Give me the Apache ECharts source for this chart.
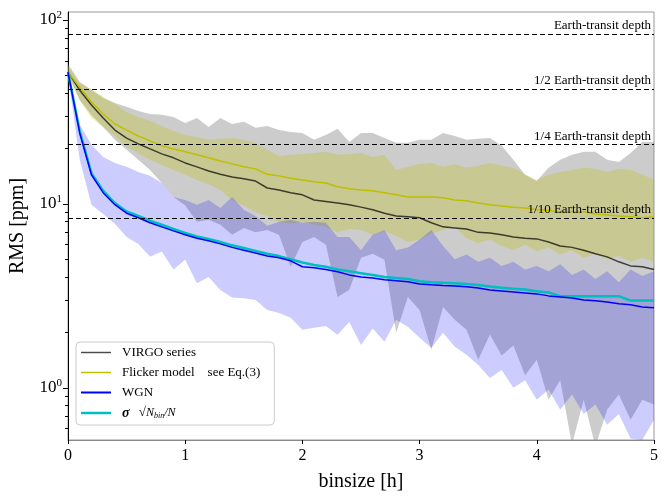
<!DOCTYPE html>
<html>
<head>
<meta charset="utf-8">
<script src="https://cdn.jsdelivr.net/npm/echarts@6/dist/echarts.min.js"></script>
<style>
html, body { margin: 0; padding: 0; background: #fff; }
#main { width: 661px; height: 498px; }
</style>
</head>
<body>
<div id="main"></div>
<script>
// bin size [h]
const binsize = [0, 0.1, 0.2, 0.3, 0.4, 0.5, 0.6, 0.7, 0.8, 0.9, 1, 1.1, 1.2, 1.3, 1.4, 1.5, 1.6, 1.7, 1.8, 1.9,
    2, 2.1, 2.2, 2.3, 2.4, 2.5, 2.6, 2.7, 2.8, 2.9, 3, 3.1, 3.2, 3.3, 3.4, 3.5, 3.6, 3.7, 3.8, 3.9,
    4, 4.1, 4.2, 4.3, 4.4, 4.5, 4.6, 4.7, 4.8, 4.9, 5]

// RMS [ppm]
const virgo = [52, 41.5, 34.5, 29.3, 25.2, 22.8, 21.2, 19.9, 18.7, 17.8, 16.7, 15.9, 15.1, 14.5, 14.0, 13.7, 13.3, 12.2, 11.9, 11.5,
    11.2, 10.5, 10.3, 10.1, 9.9, 9.6, 9.3, 8.9, 8.6, 8.5, 8.4, 7.9, 7.5, 7.4, 7.3, 7.0, 6.95, 6.8, 6.6, 6.5,
    6.45, 6.2, 5.9, 5.8, 5.6, 5.35, 5.15, 4.84, 4.6, 4.55, 4.4]
const virgoLo = [51, 36.7, 30.4, 26.2, 22.3, 19.7, 17.4, 15.3, 13.0, 10.9, 9.8, 8.0, 8.2, 7.7, 6.8, 7.4, 7.0, 7.2, 6.8, 4.55,
    6.2, 6.6, 6.0, 3.12, 3.41, 5.09, 5.35, 4.96, 1.99, 3.12, 2.65, 1.61, 2.75, 2.34, 2.07, 1.42, 1.95, 1.5, 1.7, 1.17,
    1.42, 0.86, 1.1, 0.49, 0.86, 0.48, 0.76, 0.92, 0.67, 0.86, 0.81]
const virgoHi = [57.7, 46.0, 41.7, 37.7, 35.4, 33.7, 32.0, 30.8, 30.5, 29.7, 27.5, 29.3, 26.2, 29.3, 27.2, 28.0, 25.9, 26.5, 25.2, 24.6,
    24.3, 22.3, 23.7, 25.6, 21.7, 24.3, 24.3, 22.8, 21.5, 21.5, 22.3, 22.3, 24.3, 23.4, 22.3, 22.6, 22.8, 20.7, 17.4, 14.4,
    13.3, 15.7, 17.4, 18.5, 19.2, 19.2, 17.4, 16.9, 18.9, 21.7, 21.7]

const flicker = [52, 43, 35.8, 30.8, 27.2, 25.2, 23.4, 22.0, 20.7, 19.9, 19.2, 18.5, 17.8, 17.1, 16.5, 15.9, 15.5, 14.5, 14.2, 13.8,
    13.5, 13.2, 13.0, 12.4, 12.1, 11.9, 11.8, 11.5, 11.2, 10.9, 10.9, 10.9, 10.8, 10.5, 10.4, 10.1, 9.9, 9.75, 9.6, 9.5,
    9.3, 9.2, 9.05, 9.05, 9.05, 8.8, 8.7, 8.6, 8.5, 8.4, 8.5]
const flickerLo = [50, 36.7, 29.3, 26.2, 23.5, 20.4, 18.9, 17.4, 16.3, 15.3, 14.4, 13.5, 12.8, 11.9, 10.5, 9.8, 9.0, 8.6, 7.98, 7.8,
    8.0, 7.7, 7.5, 7.0, 7.3, 7.2, 6.8, 7.1, 6.7, 6.2, 6.4, 6.9, 7.2, 7.5, 6.5, 6.1, 6.4, 5.9, 5.6, 6.0,
    5.5, 5.8, 5.3, 5.6, 5.1, 5.35, 5.0, 5.2, 4.85, 5.1, 4.85]
const flickerHi = [56.2, 45.4, 41.7, 38.2, 34.9, 31.6, 29.7, 28.3, 26.5, 24.9, 23.7, 23.1, 22.3, 22.6, 22.8, 22.3, 21.5, 19.7, 18.2, 18.5,
    18.7, 18.9, 19.2, 18.5, 18.7, 18.9, 18.0, 18.5, 15.3, 15.9, 16.5, 16.7, 15.9, 16.5, 15.7, 16.1, 16.7, 16.1, 15.7, 14.5,
    13.5, 14.4, 14.9, 15.3, 15.7, 15.5, 14.9, 15.5, 15.3, 14.5, 13.5]

const wgn = [52, 24.3, 14.4, 11.5, 9.9, 8.9, 8.4, 7.9, 7.5, 7.13, 6.8, 6.5, 6.3, 6.06, 5.8, 5.6, 5.4, 5.2, 5.1, 4.9,
    4.55, 4.5, 4.4, 4.27, 4.11, 4.0, 3.95, 3.87, 3.82, 3.77, 3.67, 3.63, 3.6, 3.58, 3.54, 3.49, 3.4, 3.36, 3.32, 3.28,
    3.24, 3.16, 3.12, 3.08, 3.0, 2.97, 2.93, 2.86, 2.83, 2.75, 2.72]
const wgnLo = [50, 17.4, 9.9, 8.8, 7.8, 6.6, 6.06, 5.15, 5.5, 4.4, 4.96, 3.7, 4.0, 3.4, 3.1, 3.07, 3.0, 2.65, 2.55, 2.4,
    2.07, 2.12, 2.17, 1.94, 2.28, 1.71, 2.1, 1.78, 2.34, 2.15, 1.87, 1.65, 1.99, 1.67, 1.51, 1.33, 1.13, 1.25, 1.0, 1.10,
    0.86, 0.98, 0.76, 0.92, 0.72, 0.81, 0.63, 0.72, 0.53, 0.52, 0.67]
const wgnHi = [54, 27, 21, 18.0, 16.7, 15.9, 14.9, 14.2, 13.0, 10.9, 10.5, 9.9, 10.5, 9.5, 10.9, 9.3, 8.6, 7.6, 8.0, 8.2,
    7.9, 8.0, 7.9, 6.6, 6.6, 5.6, 6.8, 7.2, 5.6, 5.8, 6.4, 7.2, 5.9, 5.0, 5.3, 4.85, 5.1, 4.6, 4.85, 4.4,
    4.6, 4.3, 4.7, 4.1, 4.4, 3.9, 4.3, 3.75, 4.4, 4.05, 4.3]

const sigmaBin = [52, 24.8, 14.7, 11.8, 10.1, 9.1, 8.6, 8.1, 7.7, 7.3, 6.95, 6.65, 6.45, 6.2, 5.95, 5.75, 5.55, 5.35, 5.2, 5.0,
    4.8, 4.65, 4.55, 4.4, 4.3, 4.2, 4.1, 4.0, 3.95, 3.9, 3.8, 3.75, 3.72, 3.7, 3.67, 3.62, 3.55, 3.5, 3.45, 3.42,
    3.35, 3.3, 3.15, 3.15, 3.15, 3.15, 3.15, 3.15, 2.98, 2.98, 2.98]

// transit depth reference lines
const depthNames = ['Earth-transit depth', '1/2 Earth-transit depth', '1/4 Earth-transit depth', '1/10 Earth-transit depth']
const depthLevels = [84, 42, 21, 8.4]

const yMajor = [1, 10, 100]
const yMinor = [0.6, 0.7, 0.8, 0.9, 2, 3, 4, 5, 6, 7, 8, 9, 20, 30, 40, 50, 60, 70, 80, 90]

const serif = 'Liberation Serif'

function pairs(ys) {
    return binsize.map((x, i) => [x, ys[i]])
}

// shaded band between lo and hi, drawn as one polygon through the axes
function band(name, lo, hi, color) {
    return {
        name: name,
        type: 'custom',
        silent: true,
        clip: true,
        data: binsize.map((x, i) => [x, lo[i], hi[i]]),
        encode: { x: 0, y: [1, 2] },
        renderItem: function (params, api) {
            if (params.dataIndex !== 0) return null
            let pts = []
            for (let i = 0; i < binsize.length; i++) pts.push(api.coord([binsize[i], hi[i]]))
            for (let i = binsize.length - 1; i >= 0; i--) pts.push(api.coord([binsize[i], lo[i]]))
            return {
                type: 'polygon',
                shape: { points: pts },
                style: { fill: color, stroke: null }
            }
        }
    }
}

const legendText = {
    virgo: '{t|VIRGO series}',
    flicker: '{t|Flicker model    see Eq.(3)}',
    wgn: '{t|WGN}',
    sigma: '{sg|σ}{t| }{sq|√}{it|N}{sb|bin}{it|/N}'
}

var chart = echarts.init(document.getElementById('main'))

let option = {
    animation: false,
    grid: {
        left: 68, right: 3, top: 12, bottom: 58,
        show: true, borderColor: '#999', borderWidth: 1
    },
    legend: {
        data: [
            { name: 'virgo', icon: 'path://M0,0h30v1.5h-30z' },
            { name: 'flicker', icon: 'path://M0,0h30v1.5h-30z' },
            { name: 'wgn', icon: 'path://M0,0h30v2h-30z' },
            { name: 'sigma', icon: 'path://M0,0h30v2.5h-30z' }
        ],
        orient: 'vertical',
        left: 76,
        top: 342,
        itemWidth: 30,
        itemHeight: 14,
        itemGap: 7,
        padding: [4, 14, 5, 5],
        backgroundColor: '#fff',
        borderColor: '#ccc',
        borderWidth: 1,
        borderRadius: 4,
        formatter: name => legendText[name],
        textStyle: {
            fontFamily: serif, fontSize: 13, color: '#000',
            rich: {
                t: { fontFamily: serif, fontSize: 13, color: '#000', padding: [0, 0, 0, 6] },
                sg: { fontFamily: serif, fontSize: 14, fontWeight: 'bold', fontStyle: 'italic', color: '#000', padding: [0, 0, 0, 6] },
                sq: { fontFamily: serif, fontSize: 13, color: '#000' },
                it: { fontFamily: serif, fontSize: 12, fontStyle: 'italic', color: '#000' },
                sb: { fontFamily: serif, fontSize: 8, fontStyle: 'italic', color: '#000', padding: [5, 0, 0, 0] }
            }
        }
    },
    xAxis: {
        type: 'value',
        min: 0,
        max: 5,
        interval: 1,
        axisLine: { lineStyle: { color: '#888' } },
        axisTick: { length: 4, lineStyle: { color: '#000' } },
        axisLabel: { fontFamily: serif, fontSize: 16, color: '#000', margin: 8 },
        splitLine: { show: false },
        name: 'binsize [h]',
        nameLocation: 'middle',
        nameGap: 32,
        nameTextStyle: { fontFamily: serif, fontSize: 20, color: '#000' }
    },
    yAxis: [{
        type: 'log',
        logBase: 10,
        min: 0.52,
        max: 110.5,
        axisLine: { show: true, lineStyle: { color: '#000' } },
        axisTick: { length: 5, customValues: yMajor, lineStyle: { color: '#000' } },
        axisLabel: {
            customValues: yMajor,
            margin: 6,
            formatter: v => '{b|10}{s|' + Math.round(Math.log10(v)) + '}',
            rich: {
                b: { fontFamily: serif, fontSize: 17, color: '#000' },
                s: { fontFamily: serif, fontSize: 11, color: '#000', padding: [0, 0, 9, 0] }
            }
        },
        splitLine: { show: false },
        name: 'RMS [ppm]',
        nameLocation: 'middle',
        nameGap: 40,
        nameTextStyle: { fontFamily: serif, fontSize: 20, color: '#000' }
    }, {
        type: 'log',
        logBase: 10,
        min: 0.52,
        max: 110.5,
        position: 'left',
        axisLine: { show: false },
        axisTick: { length: 3, customValues: yMinor, lineStyle: { color: '#000' } },
        axisLabel: { show: false },
        splitLine: { show: false }
    }],
    series: [
        band('virgoBand', virgoLo, virgoHi, 'rgba(128,128,128,0.4)'),
        band('flickerBand', flickerLo, flickerHi, 'rgba(191,191,0,0.28)'),
        band('wgnBand', wgnLo, wgnHi, 'rgba(0,0,255,0.2)'),
        {
            name: 'virgo',
            type: 'line',
            data: pairs(virgo),
            symbol: 'none',
            lineStyle: { color: 'rgba(0,0,0,0.7)', width: 1.5 },
            itemStyle: { color: 'rgba(0,0,0,0.7)' },
            markLine: {
                silent: true,
                symbol: ['none', 'none'],
                lineStyle: { type: [5, 3], color: '#000', width: 1.2 },
                label: {
                    position: 'insideEndTop',
                    formatter: '{b}',
                    fontFamily: serif,
                    fontSize: 13,
                    color: '#000',
                    distance: [3, 2]
                },
                data: depthNames.map((n, i) => ({ name: n, yAxis: depthLevels[i] }))
            }
        },
        {
            name: 'flicker',
            type: 'line',
            data: pairs(flicker),
            symbol: 'none',
            lineStyle: { color: '#bfbf00', width: 1.5 },
            itemStyle: { color: '#bfbf00' }
        },
        {
            name: 'sigma',
            type: 'line',
            data: pairs(sigmaBin),
            symbol: 'none',
            lineStyle: { color: '#00bfbf', width: 2.5 },
            itemStyle: { color: '#00bfbf' }
        },
        {
            name: 'wgn',
            type: 'line',
            data: pairs(wgn),
            symbol: 'none',
            lineStyle: { color: '#0000ff', width: 1.5 },
            itemStyle: { color: '#0000ff' }
        }
    ]
}
chart.setOption(option)
</script>
</body>
</html>
